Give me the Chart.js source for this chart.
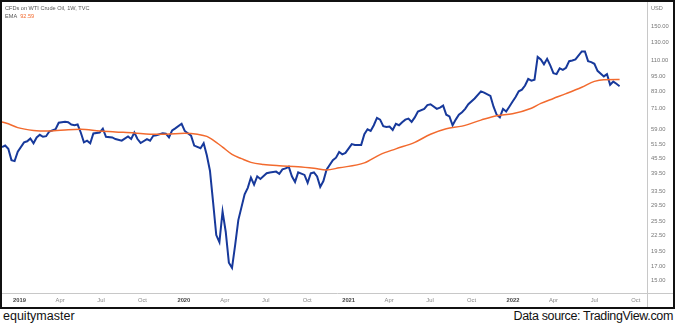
<!DOCTYPE html>
<html>
<head>
<meta charset="utf-8">
<script src="https://cdn.jsdelivr.net/npm/chart.js@4.4.1/dist/chart.umd.min.js"></script>
<style>
  body { margin:0; background:#fff; width:675px; height:327px; overflow:hidden; position:relative; font-family:'Liberation Sans', Arial, sans-serif; }
  #frame { position:absolute; left:0; top:0; width:675px; height:309px; border:2px solid #111; box-sizing:border-box; }
  #myChart { position:absolute; left:0; top:0; }
  .small { position:absolute; font-size:5.6px; line-height:6px; color:#555; white-space:nowrap; }
  .foot { position:absolute; top:310px; font-size:12.5px; line-height:13px; color:#111; white-space:nowrap; }
</style>
</head>
<body>
<div id="frame">
  <canvas id="myChart" width="671" height="305"></canvas>
  <div class="small" style="left:3px;top:3px">CFDs on WTI Crude Oil, 1W, TVC</div>
  <div class="small" style="left:3px;top:11px">EMA&nbsp; <span style="color:#f26a2e">92.59</span></div>
  <div class="small" style="left:649px;top:3px;color:#777">USD</div>
</div>
<div class="foot" style="left:3px">equitymaster</div>
<div class="foot" style="right:2px;letter-spacing:-0.35px">Data source: TradingView.com</div>

<script>
// weeks counted from the first weekly bar
var startDate = '2018-11-23'

var wtiWeeks = [0,1,2,3,4,5,7,8,9,10,11,12,13,14,15,17,18,20,21,22,23,24,25,26,27,28,29,31,32,33,35,36,38,40,41,42,43,44,46,47,48,49,51,52,53,54,55,57,58,60,
  61,63,64,65,66,67,68,69,70,71,72,73,74,75,77,78,79,80,81,82,84,85,87,88,89,90,91,92,93,94,96,97,98,99,100,101,102,103,105,106,107,108,109,111,112,114,115,116,117,118,
  119,120,121,122,123,124,125,126,127,128,129,130,131,132,134,135,136,138,139,140,141,142,143,144,145,146,147,148,150,152,153,155,156,157,158,159,160,161,162,163,164,165,166,167,168,169,170,171,172,173,
  174,175,176,177,178,179,180,181,182,184,185,186,187,188,189,191,192,193,194,195,196]
var wtiClose = [50.2,50.9,49.4,44.6,44.2,48.1,52.4,52.9,54.3,52.0,54.8,56.1,55.1,55.4,57.8,59.0,62.6,63.1,62.9,61.6,61.2,61.6,57.3,52.4,53.2,52.0,56.8,57.3,59.3,55.1,54.8,54.0,53.2,55.3,54.0,57.3,54.0,52.1,54.0,53.2,55.6,55.9,56.9,56.7,54.8,58.4,59.5,62.0,58.1,55.7,
  50.9,49.7,52.0,46.6,40.5,30.4,22.6,21.2,28.0,23.3,17.6,16.8,20.7,25.9,32.7,34.7,38.1,35.7,38.5,37.6,39.6,39.9,40.2,39.4,41.0,41.4,42.0,38.5,36.6,39.9,39.0,36.3,39.6,39.9,38.5,35.0,36.9,40.9,44.6,45.6,48.0,47.0,47.6,51.6,51.2,51.2,56.4,59.0,58.1,61.2,
  65.4,64.4,60.7,60.2,60.5,58.6,62.0,61.2,62.9,64.4,65.0,63.1,65.7,69.3,71.0,73.5,74.0,71.0,71.8,73.1,67.3,66.3,61.2,64.4,67.3,68.9,71.0,74.0,78.0,83.2,82.3,79.8,72.4,67.3,65.7,71.0,69.3,72.4,75.7,79.1,83.2,84.5,87.7,93.1,91.7,92.5,113.7,111.1,106.3,111.7,
  105.3,98.2,97.3,102.6,101.1,103.1,109.4,110.1,111.1,119.5,119.5,109.4,108.5,106.8,100.2,95.3,97.3,88.3,90.9,89.1,87.2]

var emaWeeks = [0,2,5,10,15,21,25,31,36,42,47,52,58,62,65,68,70,73,76,79,83,88,94,99,103,107,115,120,125,131,136,141,146,152,157,162,168,171,175,179,184,188,191,196]
var emaValue = [63.1,62.0,59.9,58.4,58.1,58.8,59.0,58.1,57.6,57.1,56.4,56.4,56.9,56.4,55.3,52.4,50.2,47.0,45.2,43.7,42.9,42.4,42.0,41.4,40.8,41.6,43.5,46.9,49.4,52.4,56.4,59.3,60.7,64.1,66.7,67.9,71.4,74.6,78.0,81.5,86.4,91.1,92.5,92.59]

var tickDates = ['2019-01-01','2019-04-01','2019-07-01','2019-10-01','2020-01-01','2020-04-01','2020-07-01','2020-10-01',
  '2021-01-01','2021-04-01','2021-07-01','2021-10-01','2022-01-01','2022-04-01','2022-07-01','2022-10-01']
var tickLabels = ['2019','Apr','Jul','Oct','2020','Apr','Jul','Oct','2021','Apr','Jul','Oct','2022','Apr','Jul','Oct']
var priceTicks = [150,130,110,95,83,71,59,51.5,45.5,39.5,33.5,29.5,25.5,22.5,19.5,17,15]

function weekOf(d){
  return (Date.parse(d) - Date.parse(startDate)) / (7*86400000)
}
var tickWeeks = tickDates.map(weekOf)

var fontFam = "'Liberation Sans', Arial, sans-serif"

var axisLines = {
  id: 'axisLines',
  afterDraw: function(chart){
    var c = chart.ctx, a = chart.chartArea
    c.save()
    c.strokeStyle = '#c8c8c8'
    c.lineWidth = 1
    c.beginPath()
    c.moveTo(0, Math.round(a.bottom) + 0.5)
    c.lineTo(chart.width, Math.round(a.bottom) + 0.5)
    c.moveTo(Math.round(a.right) + 0.5, 0)
    c.lineTo(Math.round(a.right) + 0.5, chart.height)
    c.stroke()
    c.restore()
  }
}

var data = {
  datasets: [{
    label: 'CFDs on WTI Crude Oil',
    data: wtiWeeks.map(function(w, i){ return {x: w, y: wtiClose[i]} }),
    borderColor: '#17399b',
    borderWidth: 2,
    pointRadius: 0,
    tension: 0,
    order: 2
  }, {
    label: 'EMA',
    data: emaWeeks.map(function(w, i){ return {x: w, y: emaValue[i]} }),
    borderColor: '#f26a2e',
    borderWidth: 1.5,
    pointRadius: 0,
    cubicInterpolationMode: 'monotone',
    order: 1
  }]
}

const config = {
  type: 'line',
  data,
  plugins: [axisLines],
  options: {
    responsive: false,
    animation: false,
    layout: { padding: 0, autoPadding: false },
    plugins: { legend: { display: false }, tooltip: { enabled: false } },
    scales: {
      x: {
        type: 'linear',
        min: 0,
        max: 204.7,
        grid: { display: false, drawTicks: false },
        border: { display: false },
        afterBuildTicks: function(s){ s.ticks = tickWeeks.map(function(v){ return {value: v} }) },
        afterFit: function(s){ s.height = 14 },
        ticks: {
          autoSkip: false,
          maxRotation: 0,
          padding: 4,
          callback: function(v, i){ return tickLabels[i] },
          color: function(ctx){ return /^\d{4}$/.test(tickLabels[ctx.index]) ? '#444' : '#888' },
          font: function(ctx){ return { family: fontFam, size: 5.8, weight: /^\d{4}$/.test(tickLabels[ctx.index]) ? 'bold' : 'normal' } }
        }
      },
      y: {
        type: 'logarithmic',
        position: 'right',
        min: 13.37,
        max: 174.8,
        grid: { display: false, drawTicks: false },
        border: { display: false },
        afterBuildTicks: function(s){ s.ticks = priceTicks.map(function(v){ return {value: v} }) },
        afterFit: function(s){ s.width = 26 },
        ticks: {
          padding: 4,
          color: '#777',
          font: { family: fontFam, size: 5.8 },
          callback: function(v){ return Number(v).toFixed(2) }
        }
      }
    }
  }
}

var myChart = new Chart(
  document.getElementById('myChart'),
  config
)
</script>
</body>
</html>
